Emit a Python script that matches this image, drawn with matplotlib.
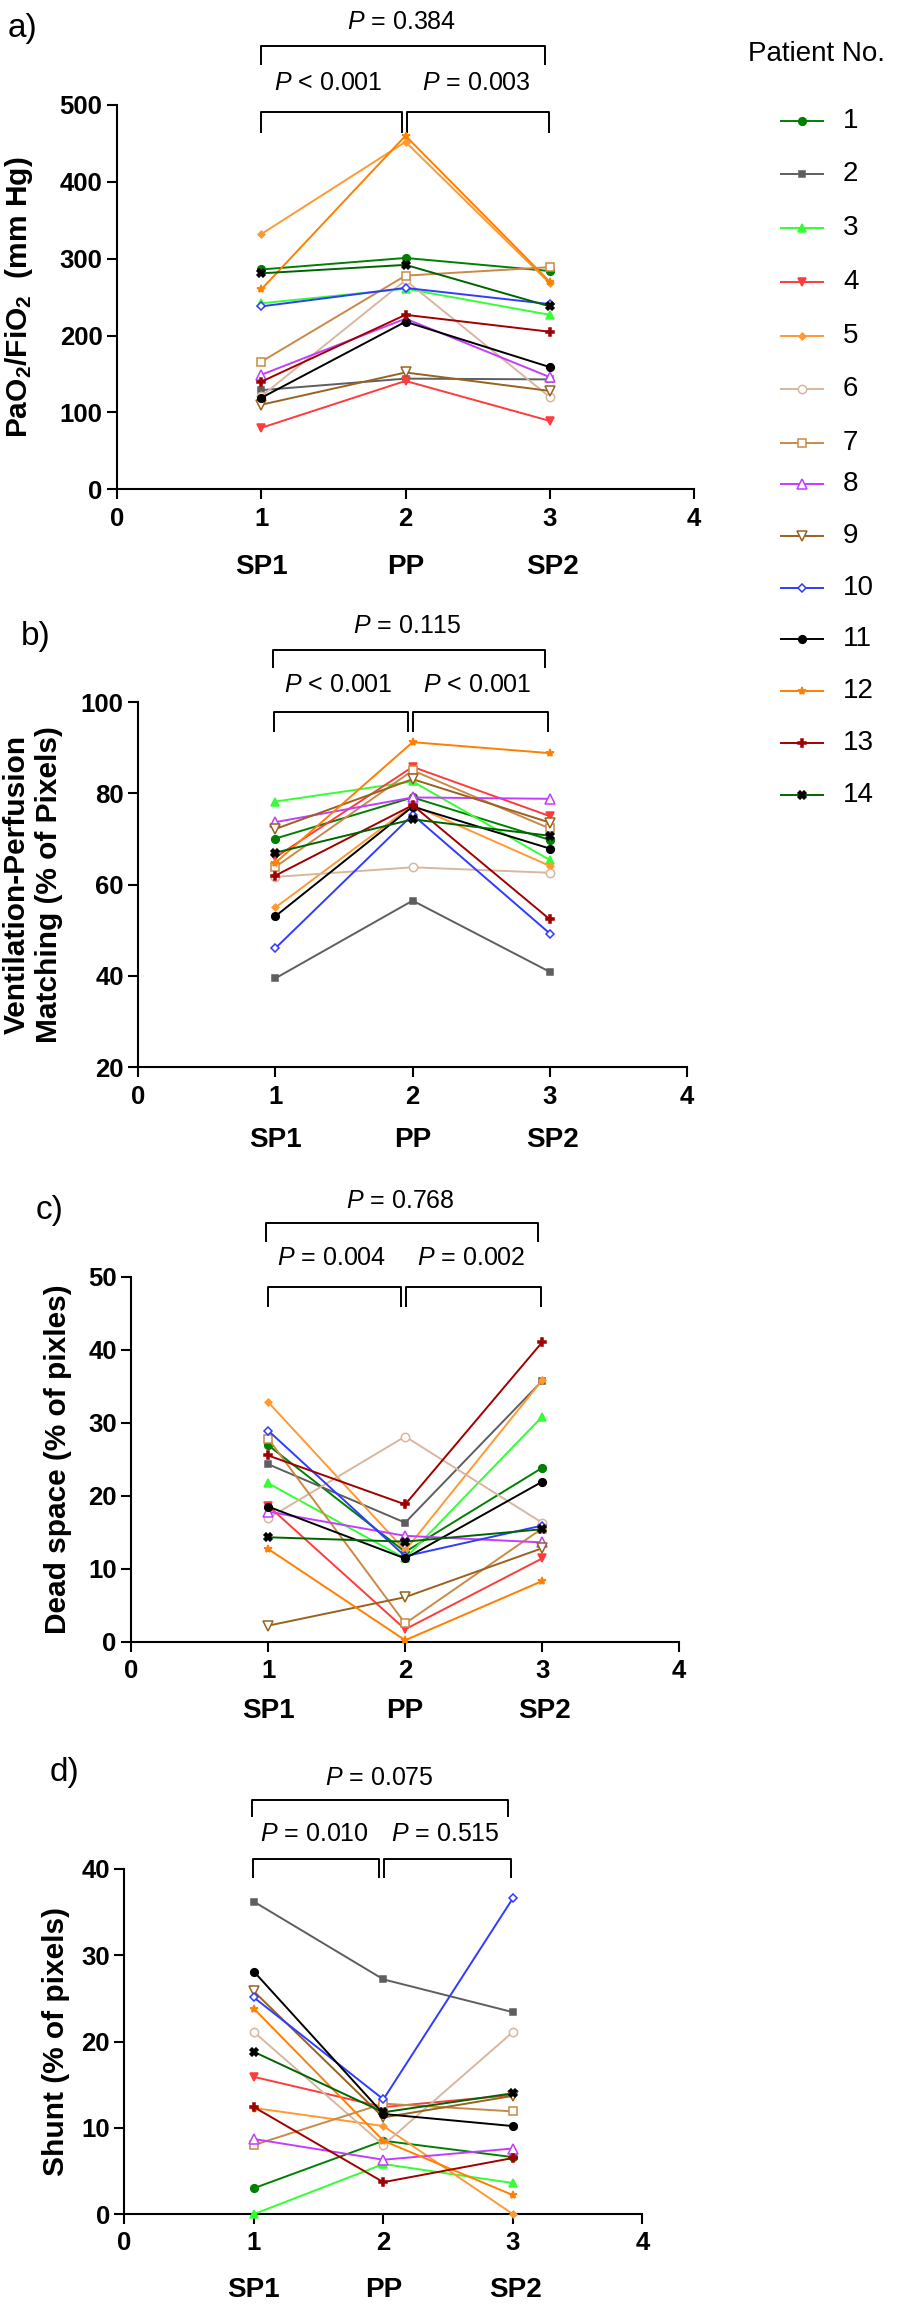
import matplotlib
matplotlib.use("Agg")
import matplotlib.pyplot as plt
from matplotlib.lines import Line2D

plt.rcParams['font.family'] = ['Liberation Sans', 'DejaVu Sans']
plt.rcParams['mathtext.fontset'] = 'custom'
plt.rcParams['mathtext.rm'] = 'Liberation Sans'
plt.rcParams['mathtext.it'] = 'Liberation Sans:italic'
plt.rcParams['mathtext.bf'] = 'Liberation Sans:bold'

# ---------------- data ----------------
patients = [str(i) for i in range(1, 15)]
x_pos = [1, 2, 3]
x_labels = ["SP1", "PP", "SP2"]

pf_ratio = {
    "1": [286, 301, 284], "2": [129, 144, 143], "3": [242, 261, 227],
    "4": [80, 141, 89], "5": [332, 452, 268], "6": [121, 272, 120],
    "7": [166, 278, 289], "8": [149, 222, 146], "9": [110, 152, 128],
    "10": [238, 262, 241], "11": [119, 218, 159], "12": [260, 460, 270],
    "13": [140, 227, 205], "14": [281, 292, 238],
}
vq_match = {
    "1": [70.1, 79.1, 69.8], "2": [39.5, 56.5, 40.9], "3": [78.2, 82.6, 65.4],
    "4": [66.0, 85.8, 75.0], "5": [55.0, 77.4, 64.1], "6": [61.7, 63.8, 62.6],
    "7": [63.9, 85.0, 72.3], "8": [73.7, 79.1, 78.8], "9": [72.2, 83.1, 73.6],
    "10": [46.1, 75.3, 49.3], "11": [53.1, 77.1, 67.9], "12": [64.8, 91.2, 88.8],
    "13": [62.0, 77.4, 52.4], "14": [67.0, 74.3, 70.7],
}
dead_space = {
    "1": [26.9, 12.3, 23.8], "2": [24.3, 16.3, 35.7], "3": [21.7, 11.4, 30.8],
    "4": [18.6, 1.7, 11.4], "5": [32.8, 12.5, 35.8], "6": [16.9, 28.1, 16.3],
    "7": [27.8, 2.5, 15.5], "8": [17.8, 14.5, 13.6], "9": [2.2, 6.1, 12.8],
    "10": [28.9, 11.7, 15.9], "11": [18.5, 11.4, 21.9], "12": [12.7, 0.2, 8.3],
    "13": [25.5, 18.8, 41.0], "14": [14.3, 13.7, 15.4],
}
shunt = {
    "1": [3.0, 8.5, 6.6], "2": [36.2, 27.2, 23.4], "3": [0.0, 5.8, 3.6],
    "4": [15.9, 12.4, 13.8], "5": [12.3, 10.2, 0.0], "6": [21.1, 8.0, 21.1],
    "7": [8.0, 12.8, 11.9], "8": [8.7, 6.3, 7.6], "9": [25.8, 11.2, 13.7],
    "10": [25.1, 13.3, 36.6], "11": [28.1, 11.6, 10.2], "12": [23.8, 8.5, 2.2],
    "13": [12.4, 3.7, 6.5], "14": [18.8, 11.8, 14.0],
}

p_values = [
    ["$P$ = 0.384", "$P$ < 0.001", "$P$ = 0.003"],
    ["$P$ = 0.115", "$P$ < 0.001", "$P$ < 0.001"],
    ["$P$ = 0.768", "$P$ = 0.004", "$P$ = 0.002"],
    ["$P$ = 0.075", "$P$ = 0.010", "$P$ = 0.515"],
]

# ---------------- styles ----------------
styles = {
    "1": dict(color="#008000", marker="o", mfc="#008000", ms=5.5),
    "2": dict(color="#5e5e5e", marker="s", mfc="#5e5e5e", ms=5),
    "3": dict(color="#33ff33", marker="^", mfc="#33ff33", ms=5.5),
    "4": dict(color="#ff3b3b", marker="v", mfc="#ff3b3b", ms=5.5),
    "5": dict(color="#ff9933", marker="D", mfc="#ff9933", ms=3.5),
    "6": dict(color="#d8b7a0", marker="o", mfc="white", ms=6),
    "7": dict(color="#c98a47", marker="s", mfc="white", ms=6),
    "8": dict(color="#c43cff", marker="^", mfc="white", ms=6.5),
    "9": dict(color="#99621e", marker="v", mfc="white", ms=6.5),
    "10": dict(color="#2f3cff", marker="D", mfc="white", ms=4.5),
    "11": dict(color="#000000", marker="o", mfc="#000000", ms=5.5),
    "12": dict(color="#ff7f00", marker="*", mfc="#ff7f00", ms=6),
    "13": dict(color="#a00000", marker="P", mfc="#a00000", ms=5.5),
    "14": dict(color="#006400", marker="X", mfc="#000000", mec="#000000", ms=6),
}

W, H = 898, 2306
fig = plt.figure(figsize=(W / 100, H / 100), dpi=100)


def fx(px):
    return px / W


def fy(py):
    return 1 - py / H


panels = [
    dict(box=(117, 105, 694, 489.3), data=pf_ratio, ylim=(0, 500), ystep=100,
         ylabel=r"PaO$_\mathbf{2}$/FiO$_\mathbf{2}$  (mm Hg)", ylab_x=19,
         letter="a)", letter_xy=(8, 28),
         top=(1.0, 2.97, 577, 552, 608), low=(491, 464, 528.6),
         lowx=(1.0, 1.978, 2.012, 2.995), tx=(1.974, 1.463, 2.489), sp_off=56),
    dict(box=(138.3, 702, 687, 1067.3), data=vq_match, ylim=(20, 100), ystep=20,
         ylabel="Ventilation-Perfusion\nMatching (% of Pixels)", ylab_x=33,
         letter="b)", letter_xy=(21, 637),
         top=(0.982, 2.962, 111.4, 107.4, 116.6), low=(97.9, 93.5, 103.8),
         lowx=(0.989, 1.968, 2.004, 2.986), tx=(1.963, 1.461, 2.472), sp_off=52),
    dict(box=(131.3, 1276.6, 679, 1641.7), data=dead_space, ylim=(0, 50), ystep=10,
         ylabel="Dead space (% of pixles)", ylab_x=58,
         letter="c)", letter_xy=(36, 1211),
         top=(0.984, 2.969, 57.3, 54.7, 60.4), low=(48.6, 45.9, 52.5),
         lowx=(0.996, 1.970, 2.007, 2.990), tx=(1.968, 1.466, 2.479), sp_off=50),
    dict(box=(124.4, 1868.9, 642.4, 2214.1), data=shunt, ylim=(0, 40), ystep=10,
         ylabel="Shunt (% of pixels)", ylab_x=56,
         letter="d)", letter_xy=(50, 1773),
         top=(0.984, 2.964, 48.0, 46.0, 50.5), low=(41.1, 39.0, 44.1),
         lowx=(0.990, 1.965, 2.004, 2.985), tx=(1.969, 1.464, 2.475), sp_off=55),
]

for k, p in enumerate(panels):
    l, t, r, b = p["box"]
    ax = fig.add_axes([fx(l), fy(b), fx(r) - fx(l), fy(t) - fy(b)])
    for pid in patients:
        st = dict(styles[pid])
        ms = st.pop("ms")
        mec = st.pop("mec", st["color"])
        ax.plot(x_pos, p["data"][pid], lw=1.4, ms=ms, mec=mec, mew=1.1,
                clip_on=False, zorder=3, **st)
    ax.set_xlim(0, 4)
    ax.set_ylim(*p["ylim"])
    ax.set_xticks([0, 1, 2, 3, 4])
    y0, y1 = p["ylim"]
    ax.set_yticks(list(range(int(y0), int(y1) + 1, p["ystep"])))
    for s in ("top", "right"):
        ax.spines[s].set_visible(False)
    for s in ("left", "bottom"):
        ax.spines[s].set_linewidth(1.5)
    ax.tick_params(axis="both", direction="out", length=7.5, width=1.5,
                   labelsize=18.5)
    ax.tick_params(axis="x", pad=5)
    ax.tick_params(axis="y", pad=3)
    for lab in ax.get_xticklabels() + ax.get_yticklabels():
        lab.set_fontweight("bold")

    # y label
    fig.text(fx(p["ylab_x"]), fy((t + b) / 2), p["ylabel"], rotation=90,
             ha="center", va="center", fontsize=21.5, fontweight="bold",
             linespacing=1.2)
    # panel letter
    fig.text(fx(p["letter_xy"][0]), fy(p["letter_xy"][1]), p["letter"],
             ha="left", va="center", fontsize=24)

    # condition labels
    for xi, lab in zip(x_pos, x_labels):
        xx = xi + (0.02 if lab == "SP2" else 0)
        ax.annotate(lab, xy=(xx, 0), xycoords=("data", "axes fraction"),
                    xytext=(0, -p["sp_off"]), textcoords="offset points",
                    ha="center", va="center", fontsize=20, fontweight="bold",
                    annotation_clip=False)

    # significance brackets
    bl = dict(color="black", lw=1.4, clip_on=False, solid_capstyle="butt")
    x1, x2, yt, ytick, ytext = p["top"]
    ax.plot([x1, x1, x2, x2], [ytick, yt, yt, ytick], **bl)
    ylo, ylo_end, ylo_text = p["low"]
    a1, a2, a3, a4 = p["lowx"]
    ax.plot([a1, a1, a2, a2], [ylo_end, ylo, ylo, ylo_end], **bl)
    ax.plot([a3, a3, a4, a4], [ylo_end, ylo, ylo, ylo_end], **bl)
    txt_top, txt_l, txt_r = p_values[k]
    t0, t1, t2 = p["tx"]
    ax.text(t0, ytext, txt_top, ha="center", va="center", fontsize=18,
            clip_on=False)
    ax.text(t1, ylo_text, txt_l, ha="center", va="center", fontsize=18,
            clip_on=False)
    ax.text(t2, ylo_text, txt_r, ha="center", va="center", fontsize=18,
            clip_on=False)

# ---------------- legend ----------------
fig.text(fx(748), fy(54), "Patient No.", ha="left", va="center", fontsize=20)
leg_y = [121, 174, 228, 282, 336, 389, 443, 484, 536, 588, 639, 691, 743, 795]
for pid, yy in zip(patients, leg_y):
    st = dict(styles[pid])
    ms = st.pop("ms")
    mec = st.pop("mec", st["color"])
    ln = Line2D([fx(781), fx(823)], [fy(yy), fy(yy)], transform=fig.transFigure,
                lw=1.4, ms=ms, mec=mec, mew=1.1, markevery=[], **st)
    fig.add_artist(ln)
    mk = Line2D([fx(802)], [fy(yy)], transform=fig.transFigure, lw=0,
                ms=ms, mec=mec, mew=1.1, **st)
    fig.add_artist(mk)
    fig.text(fx(843), fy(yy), pid, ha="left", va="center", fontsize=20)

fig.savefig("out.png", dpi=100)
